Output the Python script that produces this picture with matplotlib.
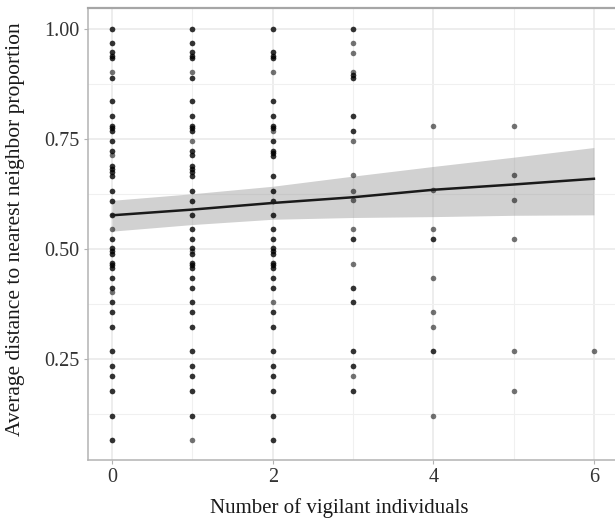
import numpy as np
import matplotlib.pyplot as plt

# dark points in the picture are overlapping observations, so they get n=2
# column 0
y0 = [1.000, 0.967, 0.947, 0.939, 0.934, 0.901, 0.889, 0.835, 0.801, 0.780,
      0.774, 0.767, 0.744, 0.723, 0.714, 0.688, 0.682, 0.674, 0.665, 0.632,
      0.609, 0.577, 0.545, 0.523, 0.502, 0.495, 0.489, 0.468, 0.462, 0.457,
      0.433, 0.411, 0.401, 0.379, 0.356, 0.322, 0.267, 0.233, 0.210, 0.176,
      0.121, 0.066]
n0 = [2, 2, 2, 2, 2, 1, 2, 2, 2, 2,
      2, 2, 2, 2, 1, 2, 2, 2, 2, 2,
      2, 2, 1, 2, 2, 2, 2, 2, 2, 2,
      2, 2, 1, 2, 2, 2, 2, 2, 2, 2,
      2, 2]
# column 1
y1 = [1.000, 0.967, 0.947, 0.939, 0.934, 0.901, 0.889, 0.835, 0.801, 0.780,
      0.774, 0.767, 0.744, 0.723, 0.714, 0.688, 0.682, 0.674, 0.665, 0.632,
      0.609, 0.577, 0.545, 0.523, 0.502, 0.495, 0.489, 0.468, 0.462, 0.457,
      0.433, 0.411, 0.379, 0.356, 0.322, 0.267, 0.233, 0.210, 0.176, 0.121,
      0.066]
n1 = [2, 2, 2, 2, 2, 1, 2, 2, 2, 2,
      2, 2, 1, 2, 2, 2, 2, 2, 2, 2,
      2, 2, 2, 2, 2, 1, 2, 2, 2, 2,
      2, 2, 2, 2, 2, 2, 2, 2, 2, 2,
      1]
# column 2
y2 = [1.000, 0.947, 0.939, 0.934, 0.901, 0.835, 0.801, 0.780, 0.774, 0.767,
      0.744, 0.723, 0.717, 0.710, 0.665, 0.632, 0.609, 0.577, 0.545, 0.523,
      0.502, 0.495, 0.489, 0.468, 0.462, 0.457, 0.433, 0.411, 0.379, 0.356,
      0.322, 0.267, 0.233, 0.210, 0.176, 0.121, 0.066]
n2 = [2, 2, 2, 2, 1, 2, 2, 2, 2, 1,
      2, 2, 2, 2, 2, 2, 2, 2, 2, 2,
      2, 2, 2, 2, 2, 2, 2, 2, 1, 2,
      2, 2, 2, 2, 2, 2, 2]
# column 3
y3 = [1.000, 0.967, 0.945, 0.901, 0.894, 0.889, 0.801, 0.767, 0.744, 0.667,
      0.632, 0.611, 0.544, 0.523, 0.466, 0.411, 0.379, 0.267, 0.233, 0.210,
      0.176]
n3 = [2, 1, 1, 1, 2, 2, 2, 2, 1, 1,
      1, 1, 1, 2, 1, 2, 2, 2, 2, 1,
      2]
# columns 4-6
y4 = [0.780, 0.634, 0.545, 0.523, 0.433, 0.356, 0.322, 0.267, 0.121]
n4 = [1, 1, 1, 2, 1, 1, 1, 2, 1]
y5 = [0.780, 0.667, 0.611, 0.523, 0.267, 0.176]
n5 = [1, 1, 1, 1, 1, 1]
y6 = [0.267]
n6 = [1]

# fitted line and confidence band read at each integer x
fit_x = [0, 1, 2, 3, 4, 5, 6]
fit_y = [0.576, 0.589, 0.604, 0.617, 0.634, 0.646, 0.659]
ci_lo = [0.540, 0.555, 0.567, 0.571, 0.573, 0.576, 0.577]
ci_hi = [0.610, 0.625, 0.642, 0.665, 0.687, 0.708, 0.730]

cols = [(0, y0, n0), (1, y1, n1), (2, y2, n2), (3, y3, n3),
        (4, y4, n4), (5, y5, n5), (6, y6, n6)]

serif = ["Liberation Serif", "DejaVu Serif"]

fig = plt.figure(figsize=(6.15, 5.23), dpi=100)
ax = fig.add_axes([88/615, 63/523, 530/615, 452/523])

xs, ys = [], []
for x, yy, nn in cols:
    for v, n in zip(yy, nn):
        xs += [x]*n
        ys += [v]*n
ax.scatter(xs, ys, s=16, c="black", alpha=0.55, linewidths=0, zorder=3)

ax.fill_between(fit_x, ci_lo, ci_hi, color="#999999", alpha=0.45, linewidth=0, zorder=2)
ax.plot(fit_x, fit_y, color="#1a1a1a", lw=1.8, zorder=4)

ax.set_xlim(-0.3, 6.3)
ax.set_ylim(0.02, 1.047)
ax.set_xticks([0, 2, 4, 6])
ax.set_xticks([1, 3, 5], minor=True)
ax.set_yticks([0.25, 0.50, 0.75, 1.00])
ax.set_yticklabels(["0.25", "0.50", "0.75", "1.00"])
ax.set_yticks([0.125, 0.375, 0.625, 0.875], minor=True)
ax.grid(which="major", color="#e8e8e8", lw=1.1, zorder=0)
ax.grid(which="minor", color="#f0f0f0", lw=0.8, zorder=0)
ax.set_axisbelow(True)

for s in ["left", "bottom", "top"]:
    ax.spines[s].set_color("#b3b3b3")
    ax.spines[s].set_linewidth(1.1)
ax.spines["top"].set_color("#a6a6a6")
ax.spines["top"].set_linewidth(1.6)
ax.spines["right"].set_visible(False)

ax.tick_params(which="major", length=3, width=0.8, color="#b3b3b3",
               labelsize=14.5, labelcolor="#333333", pad=3)
ax.tick_params(which="minor", length=0)
for lab in ax.get_xticklabels() + ax.get_yticklabels():
    lab.set_family(serif)

ax.set_xlabel("Number of vigilant individuals", family=serif, fontsize=15,
              color="#1a1a1a")
ax.xaxis.set_label_coords(0.475, -0.085)
ax.set_ylabel("Average distance to nearest neighbor proportion", family=serif,
              fontsize=15.5, color="#1a1a1a")
ax.yaxis.set_label_coords(-0.118, 0.51)

fig.savefig("out.png", dpi=100)
